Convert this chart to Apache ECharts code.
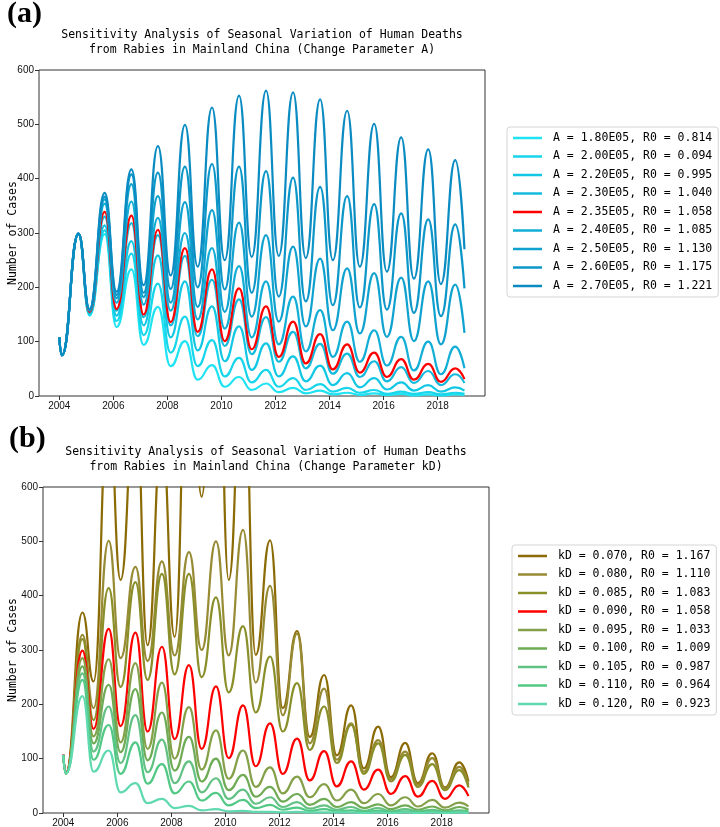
<!DOCTYPE html>
<html><head><meta charset="utf-8">
<script src="https://cdn.jsdelivr.net/npm/echarts@6/dist/echarts.min.js"></script>
<style>html,body{margin:0;padding:0;background:#fff}#c{width:720px;height:827px}</style>
</head><body><div id="c"></div>
<script>
// time stamps (start, yearly trough, yearly peak ..., end)
const years = [2004.00, 2004.10, 2004.71, 2005.12, 2005.68, 2006.12, 2006.67, 2007.12, 2007.65, 2008.12, 2008.65, 2009.12, 2009.65, 2010.12, 2010.65, 2011.12, 2011.65, 2012.12, 2012.65, 2013.12, 2013.65, 2014.12, 2014.65, 2015.12, 2015.65, 2016.12, 2016.65, 2017.12, 2017.65, 2018.12, 2018.65, 2018.99];
const xTicks = [2004, 2006, 2008, 2010, 2012, 2014, 2016, 2018];

// panel (a): parameter A
const a180 = [108,75,297, 148,298, 127,233, 94,164, 55,101, 30,57, 17,35, 11,23, 7,15, 5,10, 3,6, 2,5, 2,4, 1,3, 1,3, 2];
const a200 = [108,75,298, 150,305, 138,262, 112,207, 80,146, 55,103, 36,70, 25,48, 17,33, 11,22, 8,15, 6,11, 4,8, 4,7, 3,6, 4];
const a220 = [108,75,298, 152,314, 148,285, 130,259, 108,211, 84,165, 64,128, 48,97, 36,73, 27,56, 20,42, 16,33, 12,25, 10,20, 8,16, 10];
const a230 = [108,75,299, 154,330, 157,318, 145,296, 130,258, 110,214, 92,178, 77,145, 63,118, 51,96, 41,78, 35,64, 27,53, 24,46, 20,40, 24];
const baseline = [108,75,299, 155,339, 160,332, 150,306, 136,272, 118,233, 101,198, 86,165, 72,137, 60,114, 49,95, 43,80, 35,68, 30,59, 26,51, 31];
const a240 = [108,75,299, 157,354, 172,358, 168,328, 157,300, 141,272, 124,239, 108,211, 95,183, 82,158, 72,137, 63,121, 56,109, 47,100, 40,91, 51];
const a250 = [108,75,299, 158,362, 180,390, 182,368, 172,357, 164,342, 155,319, 146,296, 137,275, 128,253, 121,235, 115,226, 109,218, 101,211, 95,205, 116];
const a260 = [108,75,299, 159,367, 186,408, 190,411, 197,422, 200,427, 196,422, 190,414, 183,402, 174,385, 167,368, 163,353, 159,336, 153,325, 147,316, 198];
const a270 = [108,75,299, 160,374, 192,417, 204,460, 222,499, 238,531, 250,553, 256,562, 258,559, 254,546, 250,525, 238,501, 229,476, 216,454, 206,434, 270];

// panel (b): parameter kD (values above 600 run off the top of the axes)
const b070 = [107,73,369, 242,760, 429,780, 309,700, 324,1000, 582,1150, 429,880, 291,502, 193,335, 140,254, 106,198, 82,159, 66,129, 55,110, 47,93, 58];
const b080 = [107,73,328, 193,501, 285,453, 280,463, 290,480, 300,500, 290,521, 240,418, 180,330, 128,229, 98,165, 76,134, 62,113, 52,101, 45,85, 52];
const b085 = [107,73,320, 171,414, 232,425, 245,440, 255,440, 250,397, 222,344, 185,288, 150,239, 116,196, 92,162, 72,128, 58,107, 48,90, 42,79, 47];
const b095 = [107,73,285, 141,283, 130,276, 118,240, 100,195, 80,152, 63,115, 48,84, 36,67, 29,53, 23,43, 18,35, 14,29, 12,24, 10,19, 12];
const b100 = [107,73,270, 128,236, 112,228, 97,185, 78,140, 58,100, 42,70, 30,48, 21,35, 15,26, 11,20, 9,16, 7,14, 6,12, 5,11, 6];
const b105 = [107,73,257, 113,196, 92,180, 75,135, 55,95, 38,64, 26,43, 17,29, 11,20, 8,14, 6,11, 4,9, 3,7, 3,6, 2,5, 3];
const b110 = [107,73,245, 98,162, 72,130, 54,90, 36,58, 23,37, 14,24, 9,15, 6,10, 4,7, 3,5, 2,4, 2,3, 1,3, 1,2, 1];
const b120 = [107,73,215, 76,115, 38,55, 18,26, 9,13, 5,7, 3,4, 2,2, 1,2, 1,1, 1,1, 0,1, 0,1, 0,1, 0,1, 0];

const namesA = ['A = 1.80E05, R0 = 0.814','A = 2.00E05, R0 = 0.094','A = 2.20E05, R0 = 0.995','A = 2.30E05, R0 = 1.040','A = 2.35E05, R0 = 1.058','A = 2.40E05, R0 = 1.085','A = 2.50E05, R0 = 1.130','A = 2.60E05, R0 = 1.175','A = 2.70E05, R0 = 1.221'];
const valsA = [a180, a200, a220, a230, baseline, a240, a250, a260, a270];
const colorsA = ['#1fe3f2','#17d5ea','#12c7e3','#14badc','#ff0000','#12aed6','#10a2cf','#0d97c8','#0a8bc1'];

const namesB = ['kD = 0.070, R0 = 1.167','kD = 0.080, R0 = 1.110','kD = 0.085, R0 = 1.083','kD = 0.090, R0 = 1.058','kD = 0.095, R0 = 1.033','kD = 0.100, R0 = 1.009','kD = 0.105, R0 = 0.987','kD = 0.110, R0 = 0.964','kD = 0.120, R0 = 0.923'];
const valsB = [b070, b080, b085, baseline, b095, b100, b105, b110, b120];
const colorsB = ['#8b6b05','#978b35','#8a8f2a','#ff0000','#84a049','#6eab55','#62c183','#52c885','#5fd9ad'];

const MONO = '"DejaVu Sans Mono", monospace';
const SANS = '"Liberation Sans", Arial, sans-serif';

function mkSeries(name, vals, color, gi) {
  return {
    type: 'line', name: name, xAxisIndex: gi, yAxisIndex: gi,
    data: years.map((t, i) => [t, vals[i]]),
    smooth: 0.5, smoothMonotone: 'x', symbol: 'none', showSymbol: false,
    clip: true, color: color, itemStyle: { color: color }, lineStyle: { width: 2.2, color: color },
    emphasis: { disabled: true }, silent: true
  };
}
function mkX(gi) {
  return {
    gridIndex: gi, type: 'value', min: 2003.25, max: 2019.75,
    splitLine: { show: false }, axisLine: { show: false },
    axisTick: { show: true, customValues: xTicks, length: 4, lineStyle: { color: '#333' } },
    axisLabel: { customValues: xTicks, fontSize: 10, fontFamily: SANS, color: '#111', margin: 5, formatter: v => String(v) }
  };
}
function mkY(gi, gap) {
  return {
    gridIndex: gi, type: 'value', min: 0, max: 600, interval: 100,
    splitLine: { show: false }, axisLine: { show: false },
    axisTick: { show: true, length: 4, lineStyle: { color: '#333' } },
    axisLabel: { fontSize: 10, fontFamily: SANS, color: '#111', margin: 5, formatter: v => String(v) },
    name: 'Number of Cases', nameLocation: 'middle', nameGap: gap, nameRotate: 90, nameMoveOverlap: false,
    nameTextStyle: { fontFamily: MONO, fontSize: 11.5, color: '#000' }
  };
}
function mkLegend(names, left, top) {
  return {
    data: names, orient: 'vertical', left: left, top: top,
    icon: 'rect', itemWidth: 29, itemHeight: 2.5, itemGap: 4.5,
    padding: [4, 6, 4, 6], borderColor: '#d5d5d5', borderWidth: 1, borderRadius: 3,
    backgroundColor: '#fff', selectedMode: false,
    textStyle: { fontFamily: MONO, fontSize: 11.5, lineHeight: 14, height: 14, color: '#000', padding: [0, 0, 0, 6] }
  };
}

const series = [];
namesA.forEach((n, i) => series.push(mkSeries(n, valsA[i], colorsA[i], 0)));
namesB.forEach((n, i) => series.push(mkSeries(n, valsB[i], colorsB[i], 1)));

const chart = echarts.init(document.getElementById('c'), null, { renderer: 'canvas' });
chart.setOption({
  animation: false,
  backgroundColor: '#fff',
  grid: [
    { left: 39, top: 70, width: 446, height: 326, show: true, borderColor: '#333', borderWidth: 1, backgroundColor: 'transparent', containLabel: false, outerBoundsMode: 'none' },
    { left: 43, top: 487, width: 446, height: 326, show: true, borderColor: '#333', borderWidth: 1, backgroundColor: 'transparent', containLabel: false, outerBoundsMode: 'none' }
  ],
  xAxis: [mkX(0), mkX(1)],
  yAxis: [mkY(0, 20), mkY(1, 24)],
  legend: [mkLegend(namesA, 507, 127), mkLegend(namesB, 512, 545)],
  series: series,
  graphic: [
    { type: 'text', left: 7, top: -1, style: { text: '(a)', font: 'bold 30px "Liberation Serif", serif', fill: '#000' } },
    { type: 'text', left: 9, top: 424, style: { text: '(b)', font: 'bold 30px "Liberation Serif", serif', fill: '#000' } },
    { type: 'text', x: 262, y: 28, style: { text: 'Sensitivity Analysis of Seasonal Variation of Human Deaths\nfrom Rabies in Mainland China (Change Parameter A)', font: '11.5px ' + MONO, fill: '#000', align: 'center', verticalAlign: 'top', lineHeight: 15 } },
    { type: 'text', x: 266, y: 445, style: { text: 'Sensitivity Analysis of Seasonal Variation of Human Deaths\nfrom Rabies in Mainland China (Change Parameter kD)', font: '11.5px ' + MONO, fill: '#000', align: 'center', verticalAlign: 'top', lineHeight: 15 } }
  ]
});
</script></body></html>
